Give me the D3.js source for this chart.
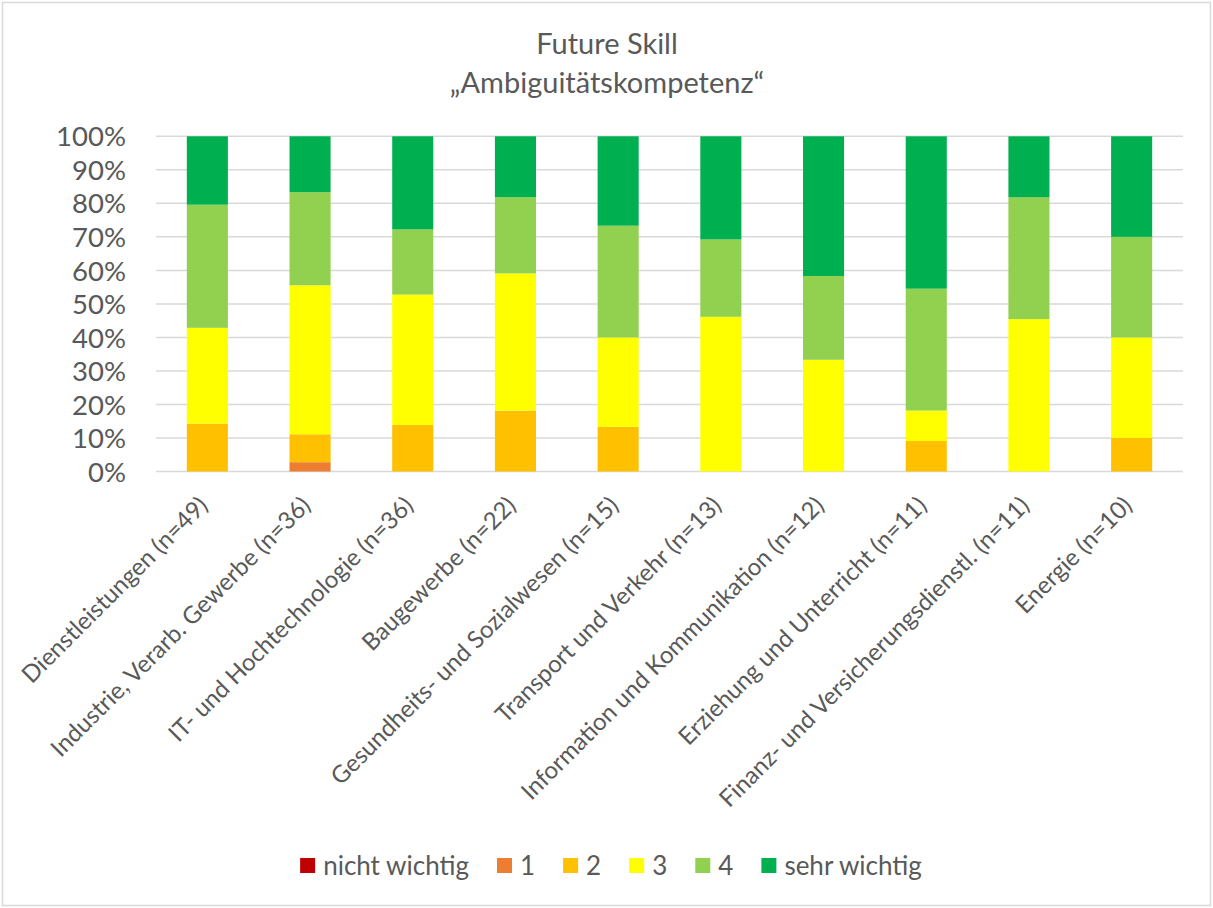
<!DOCTYPE html>
<html>
<head>
<meta charset="utf-8">
<script src="https://cdn.jsdelivr.net/npm/d3@7"></script>
<style>
  html, body { margin: 0; padding: 0; background: #fff; }
  svg { display: block; }
  text { font-family: Lato, "Open Sans", sans-serif; fill: #595959; }
</style>
</head>
<body>
<svg id="chart" width="1213" height="908"></svg>
<script>
// ---- Data (percent of respondents per category) ----
const categories = [
  "Dienstleistungen (n=49)",
  "Industrie, Verarb. Gewerbe (n=36)",
  "IT- und Hochtechnologie (n=36)",
  "Baugewerbe (n=22)",
  "Gesundheits- und Sozialwesen (n=15)",
  "Transport und Verkehr (n=13)",
  "Information und Kommunikation (n=12)",
  "Erziehung und Unterricht (n=11)",
  "Finanz- und Versicherungsdienstl. (n=11)",
  "Energie (n=10)"
];
const seriesNames = ["nicht wichtig", "1", "2", "3", "4", "sehr wichtig"];
const nichtWichtig = [0, 0, 0, 0, 0, 0, 0, 0, 0, 0];
const eins  = [0, 2.78, 0, 0, 0, 0, 0, 0, 0, 0];
const zwei  = [14.29, 8.33, 13.89, 18.18, 13.33, 0, 0, 9.09, 0, 10];
const drei  = [28.57, 44.44, 38.89, 40.91, 26.67, 46.15, 33.33, 9.09, 45.45, 30];
const vier  = [36.73, 27.78, 19.44, 22.73, 33.33, 23.08, 25, 36.36, 36.36, 30];
const sehr  = [20.41, 16.67, 27.78, 18.18, 26.67, 30.77, 41.67, 45.45, 18.18, 30];
const yTicks = [0, 10, 20, 30, 40, 50, 60, 70, 80, 90, 100];
const titleLines = ["Future Skill", "\u201EAmbiguitätskompetenz\u201C"];
const colors = ["#C00000", "#ED7D31", "#FFC000", "#FFFF00", "#92D050", "#00B050"];

// ---- Build table ----
const seriesValues = [nichtWichtig, eins, zwei, drei, vier, sehr];
const table = categories.map((c, i) => {
  const row = { cat: c };
  seriesNames.forEach((s, k) => row[s] = seriesValues[k][i]);
  return row;
});
const stacked = d3.stack().keys(seriesNames)(table);

const svg = d3.select("#chart");

// Outer border
svg.append("rect").attr("x", 2.5).attr("y", 2.5).attr("width", 1208).attr("height", 903)
  .attr("fill", "#fff").attr("stroke", "#D9D9D9").attr("stroke-width", 1.5);

const x = d3.scaleBand().domain(categories).range([156, 1183]).paddingInner(0.6).paddingOuter(0.3);
const y = d3.scaleLinear().domain([0, 100]).range([471.5, 136.3]);

// Title
svg.append("g").selectAll("text").data(titleLines).join("text")
  .attr("x", 607).attr("y", (d, i) => 54 + i * 39)
  .attr("text-anchor", "middle").style("font-size", "29px")
  .text(d => d);

// Gridlines
svg.append("g").selectAll("line").data(yTicks).join("line")
  .attr("x1", 156).attr("x2", 1183)
  .attr("y1", d => y(d)).attr("y2", d => y(d))
  .attr("stroke", "#D9D9D9").attr("stroke-width", 1.5);

// Y axis labels
const yAxis = d3.axisLeft(y).tickValues(yTicks).tickFormat(d => d + "%").tickSize(0).tickPadding(0);
const yg = svg.append("g").attr("transform", "translate(126,0)").call(yAxis);
yg.select(".domain").remove();
yg.selectAll("text").style("font-size", "27.5px").attr("fill", "#595959")
  .style("font-family", "Lato, sans-serif").attr("dy", "0.35em");

// Bars
svg.append("g").selectAll("g").data(stacked).join("g")
  .attr("fill", (d, i) => colors[i])
  .selectAll("rect").data(d => d.map(v => ({ v, cat: v.data.cat }))).join("rect")
  .attr("x", d => x(d.cat))
  .attr("width", x.bandwidth())
  .attr("y", d => y(d.v[1]))
  .attr("height", d => Math.max(0, y(d.v[0]) - y(d.v[1])));

// X labels rotated -45
svg.append("g").selectAll("text").data(categories).join("text")
  .attr("transform", d => `translate(${x(d) + x.bandwidth() / 2 - 4},${501}) rotate(-45)`)
  .attr("text-anchor", "end")
  .attr("dy", "0.35em")
  .style("font-size", "24px")
  .text(d => d);

// Legend
const legend = svg.append("g");
const items = legend.selectAll("g").data(seriesNames).join("g");
items.append("rect").attr("width", 15).attr("height", 15).attr("y", -8)
  .attr("fill", (d, i) => colors[i]);
items.append("text").attr("x", 23).attr("dy", "0.35em").style("font-size", "26px").text(d => d);
let cx = 0;
items.each(function () {
  const g = d3.select(this);
  g.attr("transform", `translate(${cx},0)`);
  const w = g.select("text").node().getComputedTextLength();
  cx += 23 + w + 28;
});
const total = cx - 28;
legend.attr("transform", `translate(${611 - total / 2},866)`);
</script>
</body>
</html>
